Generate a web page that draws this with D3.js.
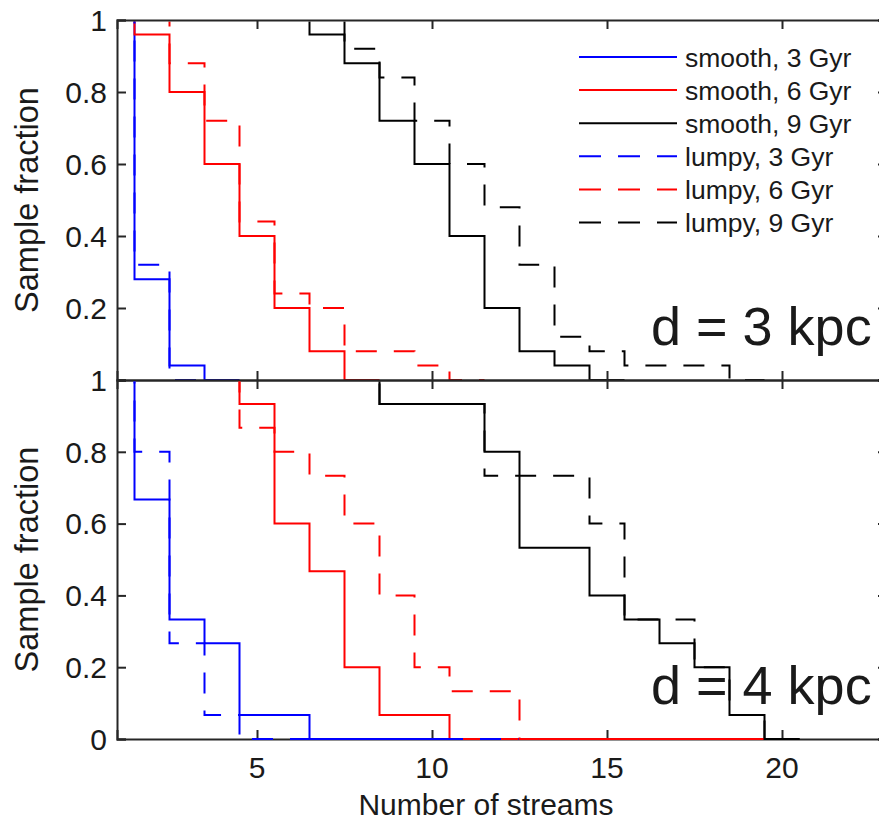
<!DOCTYPE html>
<html><head><meta charset="utf-8">
<script src="https://cdn.jsdelivr.net/npm/d3@7"></script>
<style>
body{margin:0;background:#fff}
svg{display:block}
text{font-family:"Liberation Sans",Arial,Helvetica,sans-serif;fill:#1a1a1a}
</style>
</head><body>
<svg id="chart" width="879" height="822"></svg>
<script>
// ---------- data ----------
const xTicks = [5, 10, 15, 20];
const yTicksTop = [0.2, 0.4, 0.6, 0.8, 1];
const yTicksBottom = [0, 0.2, 0.4, 0.6, 0.8, 1];
const seriesNames = ["smooth, 3 Gyr", "smooth, 6 Gyr", "smooth, 9 Gyr", "lumpy, 3 Gyr", "lumpy, 6 Gyr", "lumpy, 9 Gyr"];
const seriesColors = ["#0000ff", "#ff0000", "#000000", "#0000ff", "#ff0000", "#000000"];
const seriesDashed = [false, false, false, true, true, true];
const panelLabels = ["d = 3 kpc", "d = 4 kpc"];

// values per bin k = 1,2,3,... (bin k covers k-0.5 .. k+0.5)
// d = 3 kpc
const top_smooth3 = [1, 0.28, 0.04, 0];
const top_smooth6 = [1, 0.96, 0.8, 0.6, 0.4, 0.2, 0.08, 0];
const top_smooth9 = [1, 1, 1, 1, 1, 1, 0.96, 0.88, 0.72, 0.6, 0.4, 0.2, 0.08, 0.04, 0];
const top_lumpy3 = [1, 0.32, 0];
const top_lumpy6 = [1, 1, 0.88, 0.72, 0.44, 0.24, 0.2, 0.08, 0.08, 0.04, 0];
const top_lumpy9 = [1, 1, 1, 1, 1, 1, 1, 0.92, 0.84, 0.72, 0.6, 0.48, 0.32, 0.12, 0.08, 0.04, 0.04, 0.04, 0];
// d = 4 kpc
const bot_smooth3 = [1, 0.667, 0.333, 0.267, 0.067, 0.067, 0, 0, 0, 0];
const bot_smooth6 = [1, 1, 1, 1, 0.933, 0.6, 0.467, 0.2, 0.067, 0.067, 0, 0, 0, 0, 0, 0, 0, 0, 0];
const bot_smooth9 = [1, 1, 1, 1, 1, 1, 1, 1, 0.933, 0.933, 0.933, 0.8, 0.533, 0.533, 0.4, 0.333, 0.267, 0.2, 0.067, 0];
const bot_lumpy3 = [1, 0.8, 0.267, 0.067, 0, 0, 0, 0, 0, 0, 0, 0];
const bot_lumpy6 = [1, 1, 1, 1, 0.867, 0.8, 0.733, 0.6, 0.4, 0.2, 0.133, 0.133, 0, 0, 0, 0, 0, 0, 0];
const bot_lumpy9 = [1, 1, 1, 1, 1, 1, 1, 1, 0.933, 0.933, 0.933, 0.733, 0.733, 0.733, 0.6, 0.333, 0.333, 0.2, 0.067, 0];

const panels = [
  {series: [top_smooth3, top_smooth6, top_smooth9, top_lumpy3, top_lumpy6, top_lumpy9], yTicks: yTicksTop, top: 20, bottom: 380, label: panelLabels[0], legend: true, xLabels: false},
  {series: [bot_smooth3, bot_smooth6, bot_smooth9, bot_lumpy3, bot_lumpy6, bot_lumpy9], yTicks: yTicksBottom, top: 380, bottom: 739, label: panelLabels[1], legend: false, xLabels: true}
];

// ---------- layout ----------
const left = 117, right = 887;
const svg = d3.select("#chart");
const defs = svg.append("defs");
const x = d3.scaleLinear().domain([1, 23]).range([left, right]);
const axisColor = "#262626";
const tickLen = 9;
const fmt = v => (v === 0 || v === 1) ? String(v) : d3.format(".1f")(v);

const layerLines = [svg.append("g"), null, null];
const frames = svg.append("g");
const layerBottomLines = svg.append("g");
const lineLayers = [layerLines[0], layerBottomLines];

panels.forEach((p, pi) => {
  const y = d3.scaleLinear().domain([0, 1]).range([p.bottom, p.top]);
  const g = frames.append("g");
  const clipId = "clip" + pi;
  defs.append("clipPath").attr("id", clipId)
    .append("rect").attr("x", left).attr("y", p.top + 1.5)
    .attr("width", right - left).attr("height", p.bottom - p.top + 0.5);

  const line = d3.line().x(d => x(d[0])).y(d => y(d[1])).curve(d3.curveStepAfter);
  const lg0 = lineLayers[pi].append("g").attr("clip-path", `url(#${clipId})`);
  p.series.forEach((vals, si) => {
    const pts = [[1, vals[0]]];
    for (let k = 2; k <= vals.length; k++) pts.push([k - 0.5, vals[k - 1]]);
    pts.push([vals.length + 0.5, vals[vals.length - 1]]);
    lg0.append("path").attr("d", line(pts))
      .attr("fill", "none")
      .attr("stroke", seriesColors[si])
      .attr("stroke-width", 2)
      .attr("stroke-dasharray", seriesDashed[si] ? "21,17" : null);
  });

  // axes: bottom / top / left / right with inward ticks
  const allY = [0, 0.2, 0.4, 0.6, 0.8, 1];
  const axes = [
    g.append("g").attr("transform", `translate(0,${p.bottom})`).call(d3.axisBottom(x).tickValues(xTicks).tickSize(-tickLen).tickFormat("")),
    g.append("g").attr("transform", `translate(0,${p.top})`).call(d3.axisTop(x).tickValues(xTicks).tickSize(-tickLen).tickFormat("")),
    g.append("g").attr("transform", `translate(${left},0)`).call(d3.axisLeft(y).tickValues(allY).tickSize(-tickLen).tickFormat("")),
    g.append("g").attr("transform", `translate(${right},0)`).call(d3.axisRight(y).tickValues(allY).tickSize(-tickLen).tickFormat(""))
  ];
  axes.forEach(a => {
    a.selectAll("path.domain").attr("stroke", axisColor).attr("stroke-width", 2);
    a.selectAll(".tick line").attr("stroke", axisColor).attr("stroke-width", 2);
  });

  // y tick labels
  g.selectAll("text.ylab").data(p.yTicks).join("text")
    .attr("class", "ylab")
    .attr("x", left - 10).attr("y", d => y(d))
    .attr("dy", "0.36em")
    .attr("text-anchor", "end")
    .attr("font-size", 30)
    .text(fmt);

  if (p.xLabels) {
    g.selectAll("text.xlab").data(xTicks).join("text")
      .attr("class", "xlab")
      .attr("x", d => x(d)).attr("y", p.bottom + 39)
      .attr("text-anchor", "middle")
      .attr("font-size", 30)
      .text(d => d);
  }

  // y axis title
  g.append("text")
    .attr("transform", `translate(38,${(p.top + p.bottom) / 2}) rotate(-90)`)
    .attr("text-anchor", "middle")
    .attr("font-size", 32.5)
    .text("Sample fraction");

  // panel annotation
  g.append("text").attr("x", 651).attr("y", p.bottom - 35)
    .attr("font-size", 54).text(p.label);

  if (p.legend) {
    const lg = g.append("g");
    seriesNames.forEach((name, i) => {
      const yy = 57 + i * 33.1;
      lg.append("line").attr("x1", 579).attr("x2", 677).attr("y1", yy).attr("y2", yy)
        .attr("stroke", seriesColors[i]).attr("stroke-width", 2)
        .attr("stroke-dasharray", seriesDashed[i] ? "22,17" : null);
      lg.append("text").attr("x", 685).attr("y", yy + 9.5).attr("font-size", 26.5).text(name);
    });
  }
});

svg.append("text").attr("x", 486).attr("y", 815)
  .attr("text-anchor", "middle").attr("font-size", 30).text("Number of streams");
</script>
</body></html>
